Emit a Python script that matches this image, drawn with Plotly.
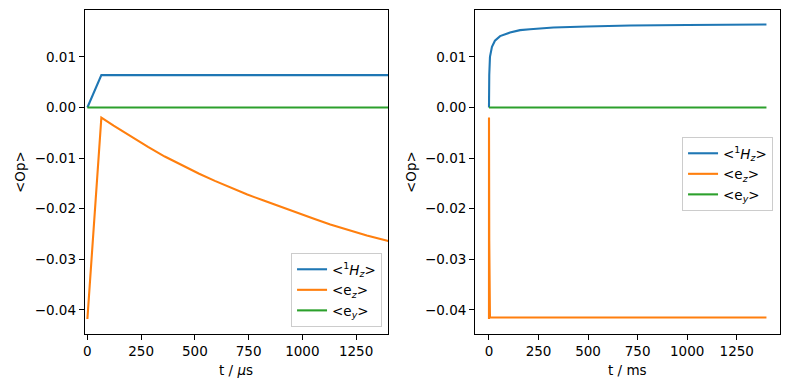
import plotly.graph_objects as go

# ---- data ----
# left panel: time in microseconds
t_us_h = [0, 65, 1400]
h_us = [0.0, 0.0064, 0.0064]
t_us_ez = [0, 65, 122, 200, 282, 360, 438, 520, 593, 670, 744, 820, 901, 980, 1054, 1130, 1210, 1300, 1400]
ez_us = [-0.0418, -0.0020, -0.0036, -0.0057, -0.0078, -0.0097, -0.0114, -0.0131, -0.0145, -0.0159,
         -0.0172, -0.0184, -0.0197, -0.0209, -0.0220, -0.0231, -0.0242, -0.0253, -0.0264]
t_us_ey = [0, 1400]
ey_us = [0.0, 0.0]

# right panel: time in milliseconds
t_ms_h = [0, 0.065, 1.4, 5, 15, 30, 56, 106, 157, 207, 325, 494, 713, 1000, 1400]
h_ms = [0.0, 0.0064, 0.0064, 0.0100, 0.0120, 0.0132, 0.0141, 0.0148, 0.01528, 0.01547, 0.0158, 0.0160, 0.0162, 0.0163, 0.0164]
t_ms_ez = [0, 0.065, 1.4, 5, 1400]
ez_ms = [-0.0418, -0.0020, -0.0264, -0.0415, -0.0415]
t_ms_ey = [0, 1400]
ey_ms = [0.0, 0.0]

names = ["&lt;<sup>1</sup><i>H</i><sub><i>z</i></sub>&gt;",
         "&lt;e<sub><i>z</i></sub>&gt;",
         "&lt;e<sub><i>y</i></sub>&gt;"]
colors = ["#1f77b4", "#ff7f0e", "#2ca02c"]

y_ticks = [-0.04, -0.03, -0.02, -0.01, 0.0, 0.01]
x_ticks = [0, 250, 500, 750, 1000, 1250]

# page body has an 8px default margin; size the figure so it fits the window
OFF = 8
W, H = 790 - OFF, 390 - OFF
FONT = "DejaVu Sans"


def px(xr):
    return (xr - OFF) / W


def py(yr):
    return 1 - (yr - OFF) / H


fig = go.Figure()

left = [(t_us_h, h_us), (t_us_ez, ez_us), (t_us_ey, ey_us)]
right = [(t_ms_h, h_ms), (t_ms_ez, ez_ms), (t_ms_ey, ey_ms)]
for i, (x, y) in enumerate(left):
    fig.add_trace(go.Scatter(x=x, y=y, mode="lines", name=names[i],
                             line=dict(color=colors[i], width=2.1),
                             xaxis="x", yaxis="y", legend="legend"))
for i, (x, y) in enumerate(right):
    fig.add_trace(go.Scatter(x=x, y=y, mode="lines", name=names[i],
                             line=dict(color=colors[i], width=2.1),
                             xaxis="x2", yaxis="y2", legend="legend2"))

ydom = [py(333.7), py(10.3)]
axis_common = dict(showline=True, mirror=True, linecolor="black", linewidth=1.1,
                   ticks="outside", ticklen=5, tickwidth=1.1, tickcolor="black",
                   showgrid=False, zeroline=False,
                   tickfont=dict(family=FONT, size=13.5, color="black"))

fig.update_layout(
    width=W, height=H,
    margin=dict(l=0, r=0, t=0, b=0),
    paper_bgcolor="white", plot_bgcolor="white",
    font=dict(family=FONT, size=13.5, color="black"),
    xaxis=dict(domain=[px(83), px(387.3)], range=[-12, 1400], tickvals=x_ticks,
               anchor="y", **axis_common),
    yaxis=dict(domain=ydom, range=[-0.0447, 0.0192], tickvals=y_ticks,
               tickformat=".2f", anchor="x", **axis_common),
    xaxis2=dict(domain=[px(474.3), px(780.3)], range=[-70, 1470], tickvals=x_ticks,
                anchor="y2", **axis_common),
    yaxis2=dict(domain=ydom, range=[-0.0447, 0.0192], tickvals=y_ticks,
                tickformat=".2f", anchor="x2", **axis_common),
    legend=dict(x=px(381), y=py(327), xanchor="right", yanchor="bottom",
                bgcolor="rgba(255,255,255,0.8)", bordercolor="#cccccc", borderwidth=1,
                font=dict(family=FONT, size=13.5, color="black"), tracegroupgap=0),
    legend2=dict(x=px(773), y=py(211), xanchor="right", yanchor="bottom",
                 bgcolor="rgba(255,255,255,0.8)", bordercolor="#cccccc", borderwidth=1,
                 font=dict(family=FONT, size=13.5, color="black"), tracegroupgap=0),
    showlegend=True,
)

ann_font = dict(family=FONT, size=13.5, color="black")
fig.add_annotation(text="t / <i>μ</i>s", x=px(235), y=py(370), xref="paper", yref="paper",
                   showarrow=False, font=ann_font, xanchor="center", yanchor="middle")
fig.add_annotation(text="t / ms", x=px(627), y=py(370), xref="paper", yref="paper",
                   showarrow=False, font=ann_font, xanchor="center", yanchor="middle")
fig.add_annotation(text="&lt;Op&gt;", x=px(18), y=py(172), xref="paper", yref="paper",
                   showarrow=False, font=ann_font, textangle=-90, xanchor="center", yanchor="middle")
fig.add_annotation(text="&lt;Op&gt;", x=px(410), y=py(172), xref="paper", yref="paper",
                   showarrow=False, font=ann_font, textangle=-90, xanchor="center", yanchor="middle")

fig.write_html("out.html")
